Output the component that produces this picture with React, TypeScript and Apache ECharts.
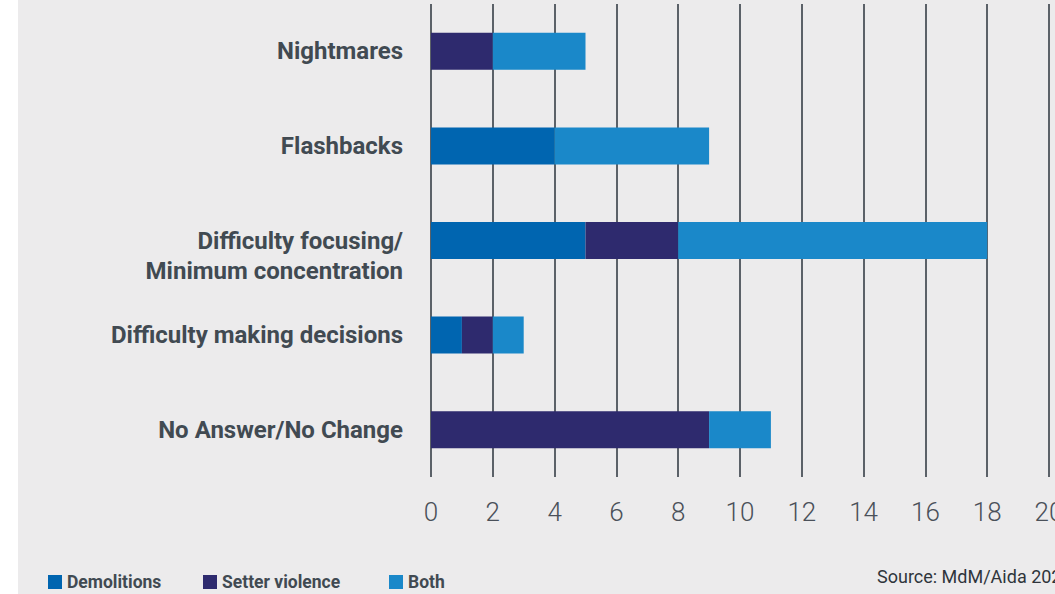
import React, { useEffect, useRef } from "react";
import * as echarts from "echarts";

const categories = [
  "Nightmares",
  "Flashbacks",
  "Difficulty focusing/\nMinimum concentration",
  "Difficulty making decisions",
  "No Answer/No Change",
];
const demolitions = [0, 4, 5, 1, 0];
const setterViolence = [2, 0, 3, 1, 9];
const both = [3, 5, 10, 1, 2];
const xTicks = [0, 2, 4, 6, 8, 10, 12, 14, 16, 18, 20];
const seriesNames = ["Demolitions", "Setter violence", "Both"];
const colors = ["#0065b0", "#2e2a6e", "#1a88c9"];
const sourceText = "Source: MdM/Aida 2021";

export default function App() {
  const ref = useRef<HTMLDivElement>(null);
  useEffect(() => {
    if (!ref.current) return;
    const chart = echarts.init(ref.current, null, { renderer: "svg" });
    const values = [demolitions, setterViolence, both];
    const legendX = [48, 203, 389];
    chart.setOption({
      animation: false,
      backgroundColor: "#ecebec",
      textStyle: { fontFamily: "Roboto" },
      graphic: [
        { type: "rect", left: 0, top: 0, shape: { width: 18, height: 594 }, style: { fill: "#ffffff" }, z: -1 },
        {
          type: "text",
          x: 877,
          y: 567,
          style: { text: sourceText, fill: "#2f353b", font: "18px Roboto" },
        },
      ],
      legend: seriesNames.map((n, i) => ({
        data: [n],
        left: legendX[i],
        top: 573,
        itemWidth: 14,
        itemHeight: 14,
        itemGap: 6,
        icon: "rect",
        padding: 0,
        textStyle: { color: "#414a52", fontSize: 17.5, fontWeight: "bold", fontFamily: "Roboto", padding: [0, 0, 0, 0] },
      })),
      grid: { left: 431, right: 6, top: 4, bottom: 117, outerBoundsMode: "none", containLabel: false },
      xAxis: {
        type: "value",
        min: xTicks[0],
        max: xTicks[xTicks.length - 1],
        interval: 2,
        axisLine: { show: false },
        axisTick: { show: false },
        splitLine: { show: true, lineStyle: { color: "#5b6168", width: 2 } },
        axisLabel: {
          color: "#4a5059",
          fontSize: 26,
          fontWeight: 300,
          fontFamily: "Roboto",
          margin: 22,
          formatter: (v: number) => String(v),
        },
      },
      yAxis: {
        type: "category",
        data: categories,
        inverse: true,
        axisLine: { show: false },
        axisTick: { show: false },
        axisLabel: {
          color: "#414a52",
          fontSize: 24,
          fontWeight: "bold",
          fontFamily: "Roboto",
          margin: 28,
          lineHeight: 30,
          align: "right",
          formatter: (v: string) => (v.indexOf("\n") >= 0 ? "\n" + v : v),
        },
      },
      series: seriesNames.map((n, i) => ({
        name: n,
        type: "bar",
        stack: "total",
        barWidth: 37,
        itemStyle: { color: colors[i] },
        data: values[i],
      })),
    });
    return () => chart.dispose();
  }, []);
  return (
    <div style={{ position: "absolute", left: 0, top: 0, width: 1055, height: 594 }}>
      <div ref={ref} style={{ width: 1055, height: 594 }} />
    </div>
  );
}
